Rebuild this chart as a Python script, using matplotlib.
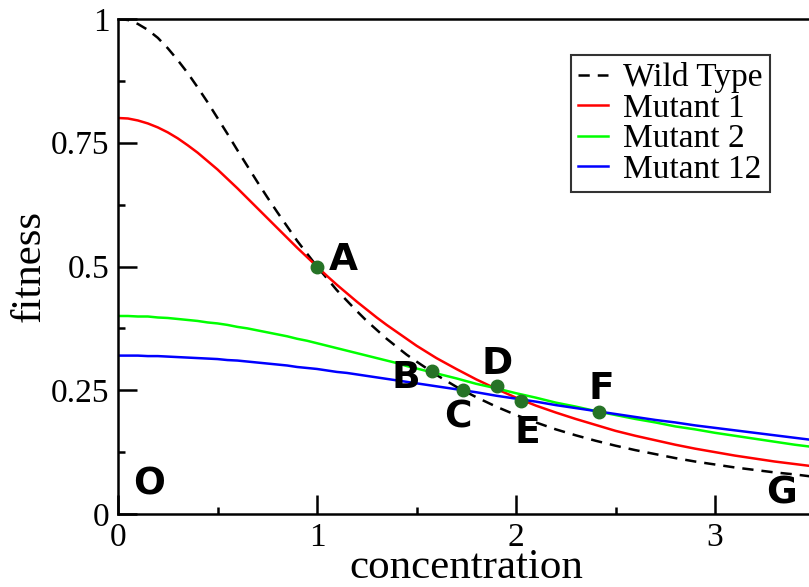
import matplotlib
matplotlib.use("Agg")
import matplotlib.pyplot as plt
from matplotlib.ticker import MultipleLocator

# ---- data ----
concentration = [0.0, 0.05, 0.1, 0.15, 0.2, 0.25, 0.3, 0.35, 0.4, 0.45,
                 0.5, 0.55, 0.6, 0.65, 0.7, 0.75, 0.8, 0.85, 0.9, 0.95,
                 1.0, 1.05, 1.1, 1.15, 1.2, 1.25, 1.3, 1.35, 1.4, 1.45,
                 1.5, 1.6, 1.7, 1.8, 1.9,
                 2.0, 2.1, 2.2, 2.3, 2.4, 2.5, 2.6, 2.7, 2.8, 2.9,
                 3.0, 3.1, 3.2, 3.3, 3.4, 3.5]
wild_type = [1.000, 0.998, 0.990, 0.978, 0.962, 0.941, 0.917, 0.891, 0.862, 0.832,
             0.800, 0.768, 0.735, 0.703, 0.671, 0.640, 0.610, 0.581, 0.552, 0.526,
             0.500, 0.476, 0.452, 0.431, 0.410, 0.390, 0.372, 0.354, 0.338, 0.322,
             0.308, 0.281, 0.257, 0.236, 0.217,
             0.200, 0.185, 0.171, 0.159, 0.148, 0.138, 0.129, 0.121, 0.113, 0.106,
             0.100, 0.094, 0.089, 0.084, 0.080, 0.075]
mutant_1 = [0.800, 0.799, 0.795, 0.789, 0.781, 0.771, 0.759, 0.745, 0.730, 0.713,
            0.696, 0.677, 0.658, 0.638, 0.618, 0.598, 0.578, 0.558, 0.538, 0.519,
            0.500, 0.481, 0.463, 0.446, 0.429, 0.413, 0.397, 0.382, 0.368, 0.354,
            0.340, 0.315, 0.293, 0.272, 0.253,
            0.235, 0.219, 0.205, 0.192, 0.180, 0.168, 0.158, 0.149, 0.140, 0.132,
            0.125, 0.118, 0.112, 0.106, 0.101, 0.096]
mutant_2 = [0.400, 0.400, 0.399, 0.399, 0.397, 0.396, 0.394, 0.392, 0.390, 0.387,
            0.385, 0.382, 0.378, 0.375, 0.371, 0.367, 0.363, 0.359, 0.354, 0.350,
            0.345, 0.340, 0.335, 0.330, 0.325, 0.320, 0.315, 0.310, 0.305, 0.299,
            0.294, 0.284, 0.274, 0.263, 0.254,
            0.244, 0.235, 0.225, 0.217, 0.208, 0.200, 0.192, 0.185, 0.177, 0.171,
            0.164, 0.158, 0.152, 0.146, 0.140, 0.135]
mutant_12 = [0.320, 0.320, 0.320, 0.319, 0.319, 0.318, 0.317, 0.316, 0.315, 0.314,
             0.313, 0.311, 0.310, 0.308, 0.306, 0.304, 0.302, 0.300, 0.297, 0.295,
             0.293, 0.290, 0.287, 0.285, 0.282, 0.279, 0.276, 0.273, 0.270, 0.267,
             0.264, 0.258, 0.252, 0.246, 0.239,
             0.233, 0.227, 0.220, 0.214, 0.208, 0.202, 0.196, 0.190, 0.185, 0.179,
             0.174, 0.169, 0.164, 0.159, 0.154, 0.149]

point_x = [1.0, 1.576, 1.735, 1.906, 2.025, 2.419]
point_y = [0.500, 0.289, 0.250, 0.259, 0.228, 0.207]

letters = ["A", "B", "C", "D", "E", "F", "O", "G"]
letter_x = [1.131, 1.447, 1.709, 1.904, 2.055, 2.427, 0.158, 3.332]
letter_y = [0.513, 0.275, 0.194, 0.303, 0.164, 0.253, 0.059, 0.042]

x_ticks = [0, 1, 2, 3]
x_tick_labels = ["0", "1", "2", "3"]
y_ticks = [0, 0.25, 0.5, 0.75, 1.0]
y_tick_labels = ["0", "0.25", "0.5", "0.75", "1"]

# ---- figure ----
serif = "Liberation Serif"
fig = plt.figure(figsize=(8.09, 5.87), dpi=100)
ax = fig.add_axes([118 / 809, 1 - 514 / 587, (814.5 - 118) / 809, (514 - 19) / 587])

lw = 1.8
ax.plot(concentration, wild_type, color="black", lw=1.8, linestyle=(0, (4.5, 3.2)), label="Wild Type")
ax.plot(concentration, mutant_1, color="#ff0000", lw=lw, label="Mutant 1")
ax.plot(concentration, mutant_2, color="#00ff00", lw=lw, label="Mutant 2")
ax.plot(concentration, mutant_12, color="#0000ff", lw=lw, label="Mutant 12")

ax.plot(point_x, point_y, linestyle="none", marker="o", markersize=9,
        color="#267326", zorder=5)

for t, x, y in zip(letters, letter_x, letter_y):
    ax.text(x, y, t, fontsize=27, fontweight="bold", family="DejaVu Sans",
            ha="center", va="center", zorder=6)

ax.set_xlim(0, 3.5)
ax.set_ylim(0, 1)
ax.set_xticks(x_ticks)
ax.set_xticklabels(x_tick_labels, fontsize=24, family=serif)
ax.set_yticks(y_ticks)
ax.set_yticklabels(y_tick_labels, fontsize=24, family=serif)
ax.xaxis.set_minor_locator(MultipleLocator(0.5))
ax.yaxis.set_minor_locator(MultipleLocator(0.125))
ax.tick_params(which="major", direction="in", length=14, width=1.8, pad=6)
ax.tick_params(which="minor", direction="in", length=5, width=1.8)
ax.tick_params(top=False, right=False, which="both")

for s in ax.spines.values():
    s.set_linewidth(1.8)

ax.set_xlabel("concentration", fontsize=31, family=serif, labelpad=-3)
ax.set_ylabel("fitness", fontsize=31, family=serif, labelpad=2)

leg = ax.legend(loc="upper left", bbox_to_anchor=(571 / 809, 1 - 55 / 587),
                bbox_transform=fig.transFigure,
                prop={"family": serif, "size": 24}, frameon=True, fancybox=False,
                handlelength=0.9, handletextpad=0.45, labelspacing=0.0,
                borderpad=0.22, borderaxespad=0)
leg.get_frame().set_edgecolor("black")
leg.get_frame().set_linewidth(1.5)

fig.savefig("out.png", dpi=100)
